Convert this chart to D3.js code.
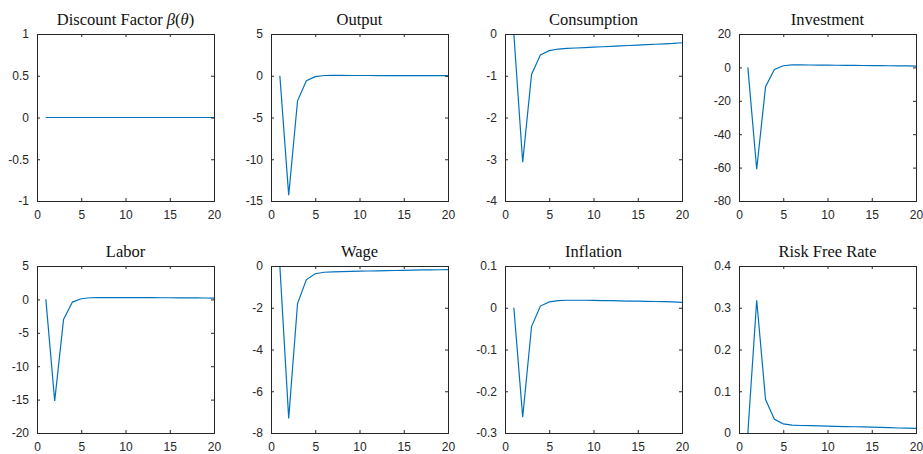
<!DOCTYPE html>
<html>
<head>
<meta charset="utf-8">
<script src="https://cdn.jsdelivr.net/npm/d3@7"></script>
<style>
  body { margin: 0; background: #fff; }
  svg { display: block; }
  .tick text { font-family: "Liberation Sans", Arial, sans-serif; font-size: 12px; fill: #262626; }
  .title { font-family: "Liberation Serif", "DejaVu Serif", serif; font-size: 16.5px; fill: #111; }
</style>
</head>
<body>
<svg id="chart" width="923" height="454"></svg>
<script>
// periods 1..20
var periods = d3.range(1, 21);

var discount = [0, 0, 0, 0, 0, 0, 0, 0, 0, 0, 0, 0, 0, 0, 0, 0, 0, 0, 0, 0];
var output = [0, -14.3, -3.0, -0.6, -0.1, 0.03, 0.04, 0.04, 0.03, 0.03, 0.03, 0.02, 0.02, 0.02, 0.02, 0.01, 0.01, 0.01, 0.01, 0.01];
var consumption = [0, -3.07, -0.97, -0.5, -0.4, -0.36, -0.345, -0.335, -0.325, -0.315, -0.305, -0.295, -0.285, -0.275, -0.265, -0.255, -0.245, -0.235, -0.225, -0.21];
var investment = [0, -61, -11.5, -1.2, 1.0, 1.5, 1.5, 1.45, 1.4, 1.35, 1.3, 1.25, 1.2, 1.15, 1.1, 1.05, 1.0, 0.95, 0.9, 0.8];
var labor = [0, -15.2, -3.0, -0.4, 0.1, 0.25, 0.28, 0.28, 0.28, 0.27, 0.27, 0.26, 0.26, 0.25, 0.25, 0.24, 0.23, 0.22, 0.21, 0.2];
var wage = [0, -7.3, -1.8, -0.65, -0.37, -0.3, -0.28, -0.27, -0.26, -0.25, -0.24, -0.23, -0.22, -0.215, -0.21, -0.2, -0.19, -0.185, -0.18, -0.17];
var inflation = [0, -0.262, -0.045, 0.004, 0.014, 0.017, 0.018, 0.018, 0.018, 0.0175, 0.017, 0.017, 0.0165, 0.016, 0.016, 0.0155, 0.015, 0.0145, 0.014, 0.013];
var riskFree = [0, 0.318, 0.08, 0.033, 0.022, 0.019, 0.018, 0.0175, 0.017, 0.0165, 0.016, 0.0155, 0.015, 0.0145, 0.014, 0.0135, 0.013, 0.012, 0.0115, 0.011];

var titles = ["Discount Factor ", "Output", "Consumption", "Investment", "Labor", "Wage", "Inflation", "Risk Free Rate"];
var series = [discount, output, consumption, investment, labor, wage, inflation, riskFree];
var yDomains = [[-1, 1], [-15, 5], [-4, 0], [-80, 20], [-20, 5], [-8, 0], [-0.3, 0.1], [0, 0.4]];
var yTicks = [
  [-1, -0.5, 0, 0.5, 1],
  [-15, -10, -5, 0, 5],
  [-4, -3, -2, -1, 0],
  [-80, -60, -40, -20, 0, 20],
  [-20, -15, -10, -5, 0, 5],
  [-8, -6, -4, -2, 0],
  [-0.3, -0.2, -0.1, 0, 0.1],
  [0, 0.1, 0.2, 0.3, 0.4]
];
var xTicks = [0, 5, 10, 15, 20];

// panel layout
var lefts = [37, 271, 505, 739];
var tops = [34, 266];
var w = 177, h = 167;

var svg = d3.select("#chart");

function fmt(v) {
  return String(+v.toFixed(2));
}

series.forEach(function (vals, i) {
  var col = i % 4, row = Math.floor(i / 4);
  var g = svg.append("g")
    .attr("transform", "translate(" + lefts[col] + "," + tops[row] + ")");

  var x = d3.scaleLinear().domain([0, 20]).range([0, w]);
  var y = d3.scaleLinear().domain(yDomains[i]).range([h, 0]);

  g.append("clipPath").attr("id", "clip" + i)
    .append("rect").attr("width", w).attr("height", h);

  // line
  g.append("path")
    .datum(periods)
    .attr("clip-path", "url(#clip" + i + ")")
    .attr("fill", "none")
    .attr("stroke", "#0072BD")
    .attr("stroke-width", 1.2)
    .attr("d", d3.line()
      .x(function (d) { return x(d); })
      .y(function (d, k) { return y(vals[k]); }));

  // axes
  var xb = g.append("g").attr("transform", "translate(0," + h + ")")
    .call(d3.axisBottom(x).tickValues(xTicks).tickSize(-3).tickPadding(9).tickFormat(fmt));
  var yl = g.append("g")
    .call(d3.axisLeft(y).tickValues(yTicks[i]).tickSize(-3).tickPadding(8).tickFormat(fmt));
  var xt = g.append("g")
    .call(d3.axisTop(x).tickValues(xTicks).tickSize(-3).tickFormat(""));
  var yr = g.append("g").attr("transform", "translate(" + w + ",0)")
    .call(d3.axisRight(y).tickValues(yTicks[i]).tickSize(-3).tickFormat(""));

  [xb, yl, xt, yr].forEach(function (a) {
    a.select(".domain").attr("stroke", "#262626").attr("stroke-width", 1);
    a.selectAll(".tick line").attr("stroke", "#262626");
  });

  var t = g.append("text")
    .attr("class", "title")
    .attr("x", w / 2)
    .attr("y", -9)
    .attr("text-anchor", "middle")
    .text(titles[i]);
  if (i === 0) {
    t.append("tspan").attr("font-style", "italic").text("\u03B2");
    t.append("tspan").text("(");
    t.append("tspan").attr("font-style", "italic").text("\u03B8");
    t.append("tspan").text(")");
  }
});
</script>
</body>
</html>
